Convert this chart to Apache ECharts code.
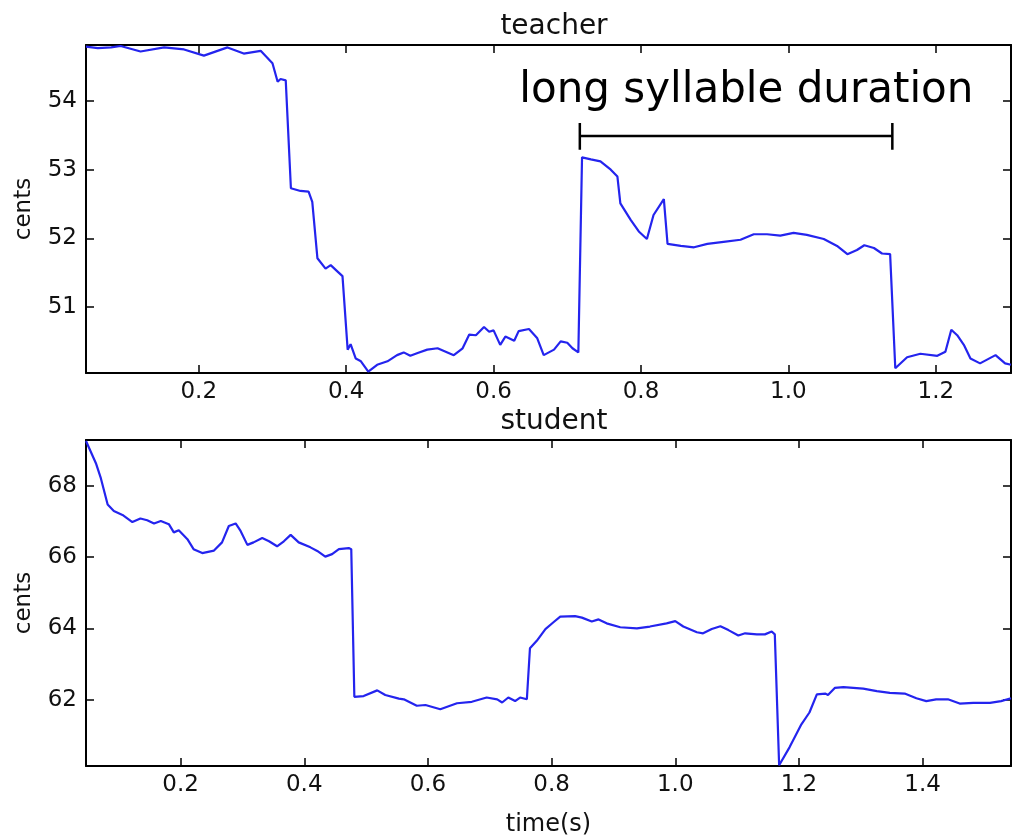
<!DOCTYPE html>
<html>
<head>
<meta charset="utf-8">
<script src="https://cdn.jsdelivr.net/npm/echarts@6/dist/echarts.min.js"></script>
<style>
html,body{margin:0;padding:0;background:#fff;}
#main{width:1012px;height:838px;}
</style>
</head>
<body>
<div id="main"></div>
<script>
// ---- data ----
const teacherTime = [0.047,0.063,0.081,0.094,0.121,0.153,0.180,0.207,0.239,0.261,0.284,0.300,0.307,0.311,0.318,0.325,0.338,0.349,0.354,0.361,0.372,0.379,0.388,0.395,0.402,0.406,0.413,0.420,0.430,0.442,0.456,0.469,0.478,0.487,0.497,0.510,0.524,0.546,0.558,0.567,0.576,0.587,0.594,0.600,0.609,0.616,0.628,0.634,0.648,0.659,0.668,0.682,0.691,0.700,0.707,0.715,0.720,0.732,0.745,0.759,0.768,0.772,0.786,0.797,0.808,0.817,0.831,0.836,0.854,0.872,0.890,0.912,0.935,0.953,0.971,0.989,1.007,1.025,1.048,1.066,1.080,1.093,1.103,1.116,1.127,1.138,1.145,1.161,1.179,1.202,1.213,1.221,1.229,1.238,1.247,1.260,1.281,1.294,1.302];
const teacherCents = [54.79,54.77,54.78,54.80,54.72,54.78,54.75,54.66,54.78,54.69,54.73,54.55,54.28,54.32,54.30,52.73,52.69,52.68,52.53,51.71,51.56,51.61,51.52,51.45,50.38,50.46,50.25,50.21,50.06,50.16,50.21,50.30,50.34,50.29,50.33,50.38,50.40,50.30,50.40,50.60,50.59,50.71,50.64,50.66,50.45,50.57,50.51,50.65,50.68,50.55,50.30,50.38,50.50,50.48,50.40,50.34,53.18,53.15,53.12,53.00,52.90,52.51,52.27,52.10,51.99,52.34,52.57,51.92,51.89,51.87,51.92,51.95,51.98,52.06,52.06,52.04,52.08,52.05,51.99,51.89,51.77,51.83,51.90,51.86,51.78,51.77,50.11,50.27,50.32,50.29,50.35,50.67,50.59,50.45,50.25,50.18,50.30,50.18,50.16];

const studentTime = [0.047,0.063,0.071,0.082,0.092,0.106,0.122,0.135,0.146,0.157,0.168,0.181,0.189,0.197,0.211,0.221,0.235,0.254,0.267,0.278,0.289,0.297,0.308,0.318,0.332,0.343,0.356,0.367,0.378,0.391,0.410,0.421,0.434,0.445,0.456,0.472,0.476,0.481,0.496,0.518,0.531,0.553,0.561,0.582,0.596,0.620,0.647,0.671,0.695,0.712,0.720,0.730,0.741,0.749,0.760,0.765,0.776,0.790,0.803,0.814,0.838,0.849,0.865,0.876,0.889,0.911,0.938,0.959,0.986,1.000,1.013,1.035,1.045,1.059,1.073,1.086,1.102,1.113,1.132,1.145,1.156,1.161,1.168,1.185,1.204,1.217,1.229,1.243,1.247,1.258,1.272,1.304,1.326,1.347,1.371,1.390,1.406,1.422,1.441,1.460,1.482,1.509,1.527,1.543];
const studentCents = [69.25,68.63,68.21,67.47,67.29,67.18,66.98,67.08,67.03,66.94,67.01,66.92,66.69,66.75,66.50,66.22,66.11,66.18,66.41,66.87,66.94,66.73,66.34,66.41,66.53,66.44,66.30,66.44,66.62,66.41,66.27,66.17,66.01,66.08,66.22,66.25,66.22,62.08,62.10,62.26,62.13,62.03,62.01,61.83,61.85,61.73,61.90,61.94,62.06,62.01,61.92,62.06,61.96,62.06,62.01,63.44,63.65,63.98,64.17,64.33,64.34,64.30,64.19,64.25,64.14,64.03,64.00,64.05,64.14,64.20,64.05,63.89,63.86,63.98,64.06,63.95,63.80,63.86,63.83,63.83,63.91,63.83,60.16,60.67,61.31,61.64,62.15,62.17,62.13,62.33,62.35,62.31,62.24,62.19,62.17,62.04,61.96,62.01,62.01,61.89,61.91,61.91,61.96,62.04];

const teacherXTicks = [0.2,0.4,0.6,0.8,1.0,1.2];
const teacherYTicks = [51,52,53,54];
const studentXTicks = [0.2,0.4,0.6,0.8,1.0,1.2,1.4];
const studentYTicks = [62,64,66,68];

const teacherXRange = [0.047,1.302];
const teacherYRange = [50.04,54.815];
const studentXRange = [0.047,1.543];
const studentYRange = [60.14,69.28];

// annotation (bracket over the long syllable)
const bracketStart = 0.717;
const bracketEnd = 1.141;
const bracketY = 53.49;
const bracketTop = 53.68;
const bracketBottom = 53.29;
const annoText = 'long syllable duration';
const annoPos = [0.943, 54.14];

const titles = ['teacher','student'];
const yName = 'cents';
const xName = 'time(s)';

// ---- chart ----
const FONT = 'DejaVu Sans';
const BLUE = '#2424ee';
const chart = echarts.init(document.getElementById('main'), null, {renderer:'canvas'});

function pairs(xs, ys){ return xs.map((x,i)=>[x, ys[i]]); }

function xAxisPair(gi, range, ticks, withName){
  const base = {
    type:'value', gridIndex:gi, min:range[0], max:range[1],
    splitLine:{show:false},
    axisLine:{show:true, onZero:false, lineStyle:{color:'#000', width:2}},
    axisTick:{show:true, inside:true, length:8, customValues:ticks, lineStyle:{color:'#000', width:1.5}}
  };
  const bottom = Object.assign({}, base, {
    position:'bottom',
    axisLabel:{show:true, customValues:ticks, formatter:v=>Number(v).toFixed(1), fontFamily:FONT, fontSize:23, color:'#111', margin:8}
  });
  if (withName){
    Object.assign(bottom, {name:xName, nameLocation:'middle', nameGap:47, nameTextStyle:{fontFamily:FONT, fontSize:24, color:'#111'}});
  }
  const top = Object.assign({}, base, {position:'top', axisLabel:{show:false}});
  return [bottom, top];
}
function yAxisPair(gi, range, ticks){
  const base = {
    type:'value', gridIndex:gi, min:range[0], max:range[1],
    splitLine:{show:false},
    axisLine:{show:true, onZero:false, lineStyle:{color:'#000', width:2}},
    axisTick:{show:true, inside:true, length:8, customValues:ticks, lineStyle:{color:'#000', width:1.5}}
  };
  const left = Object.assign({}, base, {
    position:'left',
    name:yName, nameLocation:'middle', nameGap:50, nameRotate:90,
    nameTextStyle:{fontFamily:FONT, fontSize:23, color:'#111'},
    axisLabel:{show:true, customValues:ticks, formatter:v=>String(Math.round(v)), fontFamily:FONT, fontSize:23, color:'#111', margin:9}
  });
  const right = Object.assign({}, base, {position:'right', axisLabel:{show:false}});
  return [left, right];
}

const xAxes = [...xAxisPair(0, teacherXRange, teacherXTicks, false), ...xAxisPair(1, studentXRange, studentXTicks, true)];
const yAxes = [...yAxisPair(0, teacherYRange, teacherYTicks), ...yAxisPair(1, studentYRange, studentYTicks)];

const bracketData = [
  [bracketStart, bracketTop],[bracketStart, bracketBottom],[bracketStart, bracketY],
  [bracketEnd, bracketY],[bracketEnd, bracketTop],[bracketEnd, bracketBottom]
];

const option = {
  animation:false,
  backgroundColor:'#fff',
  textStyle:{fontFamily:FONT},
  title:[
    {text:titles[0], left:549, top:8, textAlign:'center', textStyle:{fontFamily:FONT, fontSize:28, fontWeight:'normal', color:'#111'}},
    {text:titles[1], left:549, top:403, textAlign:'center', textStyle:{fontFamily:FONT, fontSize:28, fontWeight:'normal', color:'#111'}}
  ],
  grid:[
    {left:86, top:45, width:925, height:328},
    {left:86, top:440, width:925, height:329}
  ],
  xAxis:xAxes,
  yAxis:yAxes,
  series:[
    {type:'line', name:'teacher', xAxisIndex:0, yAxisIndex:0, data:pairs(teacherTime, teacherCents),
     showSymbol:false, symbol:'none', lineStyle:{color:BLUE, width:2.2}, clip:true},
    {type:'line', name:'bracket', xAxisIndex:0, yAxisIndex:0, data:bracketData,
     showSymbol:false, symbol:'none', lineStyle:{color:'#000', width:2.5}, clip:false,
     markPoint:{symbol:'rect', symbolSize:1, itemStyle:{color:'rgba(0,0,0,0)'},
       label:{show:true, position:'inside', formatter:annoText, fontFamily:FONT, fontSize:42, color:'#000'},
       data:[{coord:annoPos}]}},
    {type:'line', name:'student', xAxisIndex:2, yAxisIndex:2, data:pairs(studentTime, studentCents),
     showSymbol:false, symbol:'none', lineStyle:{color:BLUE, width:2.2}, clip:true}
  ]
};
chart.setOption(option);
</script>
</body>
</html>
